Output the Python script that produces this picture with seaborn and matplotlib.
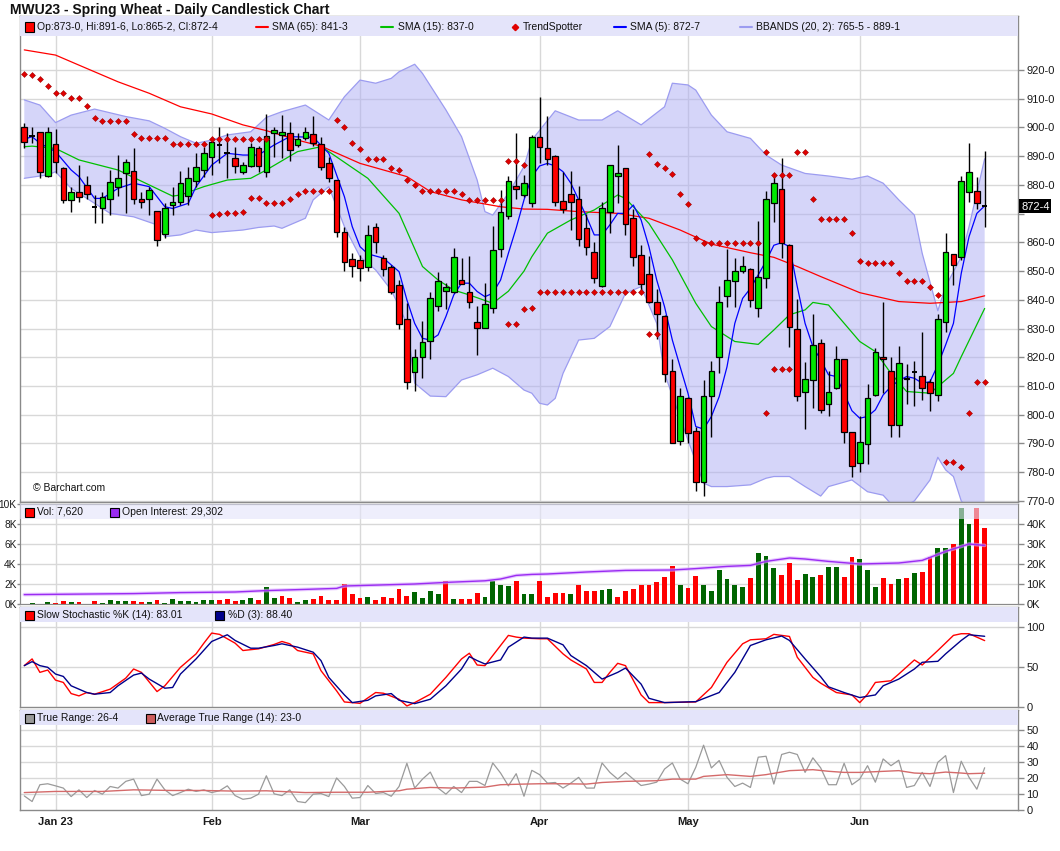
import numpy as np
import seaborn as sns
import matplotlib.pyplot as plt
from matplotlib.patches import Rectangle
from matplotlib.lines import Line2D

# daily candles, 27 Dec 2022 .. 23 Jun 2023
opens = [900.0, 897.1, 898.3, 883.0, 894.1, 885.8, 874.6, 877.7, 879.9, 872.4,
         871.9, 875.0, 879.4, 884.0, 884.7, 875.0, 875.0, 870.8, 862.8, 872.9,
         873.9, 876.0, 881.3, 885.2, 889.6, 893.9, 891.0, 889.3, 884.6, 886.6,
         892.7, 884.4, 898.0, 897.4, 898.0, 893.9, 896.2, 897.8, 894.4, 887.5,
         881.6, 863.5, 854.1, 853.9, 851.6, 865.2, 854.5, 851.3, 845.2, 833.2,
         814.8, 820.0, 825.8, 837.9, 843.1, 842.6, 846.8, 842.9, 832.4, 830.1,
         837.1, 857.6, 869.2, 879.7, 876.4, 873.8, 896.6, 892.7, 890.2, 874.3,
         876.7, 875.0, 864.9, 856.5, 844.8, 870.5, 883.1, 885.8, 868.4, 855.6,
         848.9, 839.1, 834.4, 815.2, 790.9, 805.7, 794.4, 776.5, 806.7, 820.0,
         841.5, 846.6, 850.0, 850.9, 837.3, 847.5, 873.8, 878.6, 859.1, 829.7,
         807.8, 812.1, 824.9, 803.6, 809.2, 819.3, 793.9, 783.1, 789.7, 806.9,
         820.0, 815.4, 796.5, 812.9, 814.8, 813.6, 811.3, 806.9, 832.2, 855.8,
         854.8, 877.7, 877.9, 873.0]
highs = [901.6, 900.0, 898.5, 900.0, 899.5, 886.2, 879.4, 886.9, 883.1, 876.5,
         877.7, 885.2, 890.4, 889.0, 892.7, 877.7, 879.4, 871.0, 873.6, 879.4,
         884.9, 886.4, 891.0, 893.3, 896.2, 900.0, 898.0, 893.1, 888.1, 894.7,
         893.5, 904.7, 900.0, 904.3, 902.0, 898.0, 900.0, 904.0, 896.6, 889.8,
         881.8, 865.5, 856.2, 855.6, 866.1, 866.9, 855.6, 852.1, 846.9, 838.8,
         822.8, 832.6, 842.9, 849.6, 846.0, 857.9, 854.5, 855.3, 837.9, 845.8,
         865.7, 878.2, 883.1, 898.0, 883.5, 897.4, 910.7, 904.0, 890.4, 884.6,
         884.8, 879.6, 869.9, 860.3, 874.2, 886.8, 893.9, 886.0, 871.5, 859.1,
         855.3, 843.7, 834.6, 819.3, 809.3, 806.3, 795.9, 812.2, 818.8, 844.9,
         857.6, 854.5, 855.4, 851.0, 867.4, 878.0, 884.0, 889.3, 859.3, 840.2,
         818.5, 835.1, 826.3, 815.2, 823.9, 819.5, 794.0, 799.4, 810.6, 823.1,
         839.4, 820.2, 824.0, 817.7, 818.8, 828.7, 812.5, 835.1, 863.4, 855.9,
         883.1, 894.5, 882.9, 891.75]
lows = [892.7, 894.5, 882.3, 882.8, 884.0, 873.6, 870.7, 874.2, 875.0, 866.9,
        866.9, 869.5, 876.1, 870.3, 873.2, 871.9, 869.5, 858.9, 861.4, 869.5,
        873.0, 873.0, 879.4, 882.9, 883.5, 887.5, 882.3, 884.0, 883.8, 886.4,
        884.6, 882.9, 889.6, 889.3, 888.4, 893.3, 895.6, 893.5, 885.2, 881.1,
        861.8, 850.2, 848.1, 846.7, 850.2, 856.2, 848.4, 842.0, 829.7, 808.9,
        808.4, 812.9, 819.3, 836.2, 836.7, 842.3, 845.4, 837.1, 820.8, 830.1,
        835.5, 855.0, 868.0, 875.0, 875.9, 872.4, 887.5, 886.9, 872.8, 870.3,
        864.3, 858.7, 855.6, 845.8, 844.6, 863.4, 873.6, 862.6, 851.9, 843.4,
        838.8, 826.3, 811.5, 790.0, 789.5, 790.1, 773.3, 771.7, 792.4, 814.4,
        837.6, 837.6, 849.2, 837.6, 834.2, 844.0, 867.2, 854.5, 823.5, 804.9,
        794.9, 802.3, 800.5, 799.4, 809.0, 790.1, 778.2, 780.2, 782.8, 806.7,
        807.5, 792.4, 792.4, 803.6, 803.2, 805.2, 801.3, 804.9, 828.9, 845.2,
        853.9, 874.2, 871.5, 865.25]
closes = [894.8, 897.1, 884.4, 898.3, 887.9, 874.6, 877.7, 875.7, 876.8, 872.4,
          875.9, 880.9, 882.3, 887.9, 875.0, 873.9, 878.1, 860.7, 871.9, 873.9,
          880.6, 882.3, 886.4, 891.0, 894.8, 893.9, 891.0, 886.6, 886.8, 893.3,
          886.6, 897.1, 899.1, 898.3, 892.2, 896.1, 898.5, 894.5, 886.1, 882.3,
          863.5, 853.1, 851.7, 851.0, 862.6, 860.0, 850.6, 842.9, 831.5, 811.3,
          820.0, 825.2, 840.6, 846.5, 844.6, 854.8, 845.4, 839.1, 830.1, 838.4,
          857.2, 870.5, 881.5, 878.5, 880.6, 896.6, 893.1, 889.0, 873.9, 871.5,
          874.2, 861.1, 858.3, 847.5, 871.9, 886.8, 884.0, 866.4, 854.8, 845.4,
          839.1, 835.1, 814.2, 790.1, 806.7, 793.6, 776.5, 806.7, 815.4, 839.4,
          846.9, 849.9, 851.9, 840.0, 848.1, 875.0, 880.6, 859.7, 830.7, 806.7,
          812.3, 824.3, 801.7, 807.8, 819.3, 794.1, 782.3, 790.6, 805.7, 822.0,
          819.3, 796.5, 817.9, 812.3, 814.8, 809.2, 807.5, 833.2, 856.5, 852.0,
          881.5, 884.4, 873.6, 872.5]

# moving averages and bollinger bands (sampled along the drawn lines)
sma65_idx = [0, 4, 7, 12, 16, 20, 24, 28, 31, 35, 38, 43, 49, 52, 56, 61, 64, 67, 71, 76,
             80, 84, 88, 93, 96, 99, 102, 107, 112, 116, 120, 123]
sma65 = [927.0, 925.2, 921.7, 915.9, 911.9, 907.2, 904.7, 900.9, 898.9, 895.6, 893.5,
         887.5, 882.9, 877.7, 874.8, 872.4, 871.6, 871.5, 870.7, 870.1, 868.4, 864.3,
         859.4, 856.4, 854.8, 851.6, 848.1, 842.5, 839.4, 838.8, 839.4, 841.4]

sma15_idx = [0, 1, 4, 7, 12, 16, 19, 20, 23, 26, 29, 31, 35, 38, 39, 44, 48, 51, 53, 55,
             57, 60, 62, 64, 65, 67, 70, 73, 76, 77, 80, 83, 86, 88, 91, 94, 96, 98, 100, 101,
             103, 107, 109, 111, 113, 116, 118, 119, 120, 123]
sma15 = [893.3, 893.5, 892.7, 888.7, 885.2, 880.0, 876.1, 876.5, 879.4, 881.7,
         882.3, 885.2, 891.6, 893.3, 891.6, 882.3, 870.1, 851.6, 846.9, 843.4,
         841.7, 838.8, 843.0, 850.0, 855.0, 863.2, 867.8, 871.3, 876.5, 875.3,
         866.6, 853.9, 838.8, 830.7, 825.5, 824.5, 829.5, 834.8, 836.5, 839.1,
         838.2, 825.5, 822.0, 814.4, 808.1, 807.5, 812.1, 814.4, 820.2, 837.0]

sma5_idx = [0, 1, 2, 4, 6, 7, 9, 10, 12, 14, 16, 18, 19, 21, 22, 24, 26, 28, 30, 31, 32,
            34, 37, 39, 41, 42, 43, 44, 46, 48] + list(range(49, 124))
sma5 = [895.9, 896.8, 894.5, 891.6, 885.2, 882.9, 875.3, 875.3, 878.8, 880.6,
        879.4, 872.4, 871.8, 873.6, 879.4, 886.9, 891.0, 890.4, 890.4, 892.2,
        893.9, 896.8, 896.6, 891.0, 875.9, 865.5, 858.5, 856.0, 854.5, 849.8,
        840.0, 831.8, 826.6, 826.0, 827.8, 834.2, 841.7, 845.8, 845.8, 842.9,
        841.1, 842.3, 846.9, 856.2, 865.0, 874.8, 882.9, 886.6, 887.5, 886.6,
        884.6, 880.6, 874.8, 869.0, 862.6, 862.6, 866.1, 870.1, 870.1, 873.0,
        867.8, 858.5, 846.9, 837.6, 826.0, 816.7, 807.5, 795.9, 795.0, 799.4,
        806.3, 816.7, 831.8, 840.5, 844.0, 848.7, 853.5, 859.0, 859.9, 858.5,
        844.6, 831.8, 823.7, 819.1, 813.9, 813.3, 807.5, 801.4, 798.8, 799.4,
        801.7, 806.9, 809.8, 811.9, 813.3, 812.7, 811.0, 811.5, 817.3, 824.3,
        831.8, 849.2, 862.0, 870.1, 872.7]

bb_up_idx = [0, 2, 4, 6, 9, 13, 16, 18, 20, 22, 24, 26, 29, 31, 33, 36, 39, 41, 43, 45,
             47, 48, 50, 51, 54, 56, 58, 59, 60, 62, 63, 64, 65, 68, 71, 74, 76, 79, 82, 83,
             85, 86, 88, 90, 93, 95, 97, 100, 103, 106, 108, 110, 112, 114, 115, 117, 118,
             120, 121, 123]
bb_up = [909.6, 907.8, 901.7, 904.3, 906.4, 903.8, 902.3, 899.7, 896.8, 894.5,
         895.6, 897.4, 898.5, 903.5, 905.5, 907.8, 902.6, 910.7, 916.5, 915.4,
         917.1, 919.4, 922.0, 918.8, 906.1, 896.8, 881.7, 870.7, 869.5, 877.1,
         881.7, 886.4, 895.6, 905.8, 902.6, 902.6, 905.8, 900.9, 907.2, 915.4,
         914.8, 913.0, 904.3, 898.5, 896.2, 890.4, 886.9, 884.0, 883.1, 882.0,
         883.1, 880.6, 874.8, 869.5, 856.2, 836.2, 844.6, 855.0, 865.5, 889.1]
bb_lo_idx = [0, 3, 4, 6, 9, 11, 14, 17, 18, 20, 22, 24, 28, 30, 32, 33, 36, 37, 39, 41,
             43, 45, 47, 49, 50, 52, 54, 56, 58, 60, 62, 64, 65, 66, 67, 68, 69, 71, 73, 75,
             77, 79, 81, 82, 85, 87, 88, 90, 93, 95, 96, 98, 100, 102, 103, 106, 108, 110,
             111, 113, 114, 116, 117, 118, 119, 120, 121, 123]
bb_lo = [882.3, 883.5, 884.6, 878.8, 873.6, 870.1, 868.9, 866.1, 862.0, 862.6,
         864.3, 863.4, 864.3, 865.2, 865.7, 864.9, 868.4, 874.8, 879.4, 865.5,
         855.0, 850.4, 843.4, 831.8, 811.0, 806.5, 806.3, 812.1, 813.9, 816.2,
         813.3, 808.6, 807.5, 804.0, 803.4, 805.7, 814.4, 826.0, 826.6, 830.7,
         842.3, 844.6, 831.8, 814.4, 791.2, 776.2, 775.0, 775.0, 775.6, 777.9,
         778.5, 778.5, 775.0, 771.7, 775.0, 777.3, 773.2, 772.0, 769.0, 768.5,
         770.0, 777.3, 785.2, 780.8, 778.5, 770.0, 767.0, 765.6]

# TrendSpotter dots
ts_idx = (list(range(0, 32)) + list(range(24, 40)) + list(range(40, 65))
          + list(range(62, 82)) + list(range(80, 118)) + list(range(95, 99))
          + list(range(118, 124)))
ts_val = ([918.5, 918.1, 916.8, 914.3, 911.9, 911.9, 910.4, 910.1, 907.4, 903.2,
           902.2, 902.2, 902.2, 902.2, 897.6, 896.3, 896.3, 896.3, 896.3, 894.1,
           894.1, 894.1, 894.1, 894.1, 895.9, 895.9, 895.9, 895.9, 895.9, 895.9,
           895.9, 895.9]
          + [869.5, 869.8, 870.1, 870.1, 870.7, 875.3, 875.3, 873.6, 873.6, 873.6,
             875.0, 876.7, 877.8, 877.8, 877.8, 877.8]
          + [902.5, 900.3, 894.5, 892.4, 888.9, 888.9, 888.9, 885.8, 885.2, 881.6,
             879.9, 877.8, 877.8, 877.8, 877.8, 877.8, 876.7, 874.6, 874.6, 874.6,
             874.6, 874.6, 888.2, 888.2, 886.8]
          + [831.5, 831.5, 836.7, 837.1] + [842.6] * 14 + [828.0, 828.0]
          + [890.6, 887.2, 885.8, 883.7, 876.7, 873.2, 861.4] + [859.7] * 8
          + [891.3, 883.5, 883.5, 883.5, 891.3, 891.3, 875.0] + [868.0] * 4
          + [863.2, 853.5] + [852.7] * 4 + [849.2, 846.5, 846.5, 846.5, 844.4, 841.6]
          + [800.5, 815.9, 815.9, 815.9]
          + [783.7, 783.7, 781.7, 800.5, 811.5, 811.5])

# volume (thousands) and open interest (thousands)
vol_k = [0, 0.1, 0, 0.2, 0.1, 0.3, 0.2, 0.2, 0, 0.3,
         0.1, 0.4, 0.3, 0.3, 0.3, 0.2, 0.2, 0.4, 0.1, 0.5,
         0.3, 0.3, 0.2, 0.4, 0.4, 0.4, 0.5, 0.3, 0.4, 0.6,
         0.4, 1.7, 0.6, 0.8, 0.6, 0.2, 0.4, 0.5, 0.8, 0.4,
         0.4, 2.0, 1.0, 0.6, 0.7, 0.4, 0.7, 0.6, 1.5, 0.8,
         1.2, 0.6, 1.3, 1.0, 2.3, 0.5, 0.5, 0.5, 1.1, 0.7,
         2.3, 1.9, 1.8, 2.3, 1.0, 1.0, 2.27, 0.7, 1.1, 1.1,
         1.0, 1.87, 1.27, 1.27, 1.4, 1.5, 0.7, 1.27, 1.5, 1.87,
         1.87, 2.2, 2.67, 3.8, 1.87, 1.6, 2.8, 1.87, 1.27, 3.4,
         2.5, 1.87, 1.7, 2.6, 5.1, 4.8, 3.6, 2.87, 4.07, 2.4,
         3.0, 2.7, 2.9, 3.7, 3.7, 2.7, 4.7, 4.5, 3.4, 1.7,
         2.6, 2.0, 2.5, 2.6, 3.1, 3.2, 4.7, 5.6, 5.6, 6.0,
         9.6, 8.0, 9.6, 7.62]
oi_idx = [0, 14, 20, 27, 31, 40, 41, 50, 54, 59, 61, 63, 65, 67, 72, 77, 83, 86, 90, 93,
          95, 98, 100, 103, 107, 112, 115, 118, 121, 123]
oi_k = [4.7, 5.2, 5.7, 6.0, 6.7, 7.8, 9.0, 10.0, 10.8, 11.6, 12.5, 14.3, 14.8, 15.0,
        16.0, 16.8, 17.0, 17.7, 18.8, 19.3, 21.3, 23.0, 22.5, 21.3, 20.0, 20.5, 21.8,
        26.3, 30.0, 29.3]

# slow stochastic
k_idx = [0, 1, 2, 3, 4, 5, 6, 7, 8, 9, 11, 13, 14, 15, 17, 18, 20, 22, 23, 24, 25, 27, 28,
         30, 32, 33, 34, 35, 37, 38, 40, 41, 43, 45, 46, 48, 49, 50, 52, 54, 56, 57, 58, 59,
         60, 62, 63, 64, 66, 67, 69, 70, 72, 73, 74, 75, 76, 77, 79, 80, 82, 86, 88, 90, 92,
         93, 95, 96, 98, 99, 101, 102, 104, 106, 107, 108, 109, 111, 112, 114, 115, 117,
         119, 120, 121, 123]
k_val = [51.7, 60.1, 43.3, 46.2, 33.6, 30.7, 16.8, 13.9, 18.1, 16.0, 22.3, 36.1, 47.5,
         43.3, 19.3, 26.5, 49.6, 66.4, 79.8, 92.4, 90.8, 79.8, 70.6, 72.7, 78.2, 81.9,
         79.0, 70.6, 66.4, 45.4, 20.2, 6.3, 4.6, 18.1, 17.2, 9.7, 1.3, 5.5, 16.0, 37.0,
         60.1, 67.2, 52.5, 51.7, 64.3, 89.5, 87.4, 86.1, 85.3, 85.3, 66.4, 58.8, 47.5,
         30.7, 30.7, 43.3, 54.6, 51.7, 15.1, 5.5, 5.5, 6.3, 24.4, 55.9, 79.0, 84.0, 85.3,
         90.8, 88.2, 62.2, 37.0, 29.8, 18.1, 15.1, 5.5, 16.0, 30.7, 32.8, 41.2, 58.8,
         52.5, 70.6, 89.5, 91.6, 91.6, 83.0]
d_idx = [0, 1, 2, 3, 4, 5, 6, 8, 9, 11, 12, 14, 15, 16, 18, 19, 20, 22, 24, 26, 27, 29,
         30, 32, 33, 35, 37, 38, 39, 41, 42, 44, 45, 47, 48, 50, 52, 54, 56, 57, 58, 59, 61,
         62, 64, 65, 67, 69, 70, 72, 74, 76, 77, 79, 80, 82, 86, 89, 91, 93, 95, 97, 98,
         100, 102, 103, 105, 107, 109, 110, 112, 114, 115, 117, 118, 120, 121, 123]
d_val = [51.7, 56.7, 51.7, 49.6, 41.2, 38.2, 26.5, 18.1, 16.0, 18.1, 26.5, 39.9, 42.4,
         34.9, 23.5, 24.4, 41.2, 60.1, 81.9, 90.3, 83.2, 73.5, 73.5, 76.9, 79.0, 74.8,
         68.5, 58.0, 37.0, 15.1, 5.5, 8.4, 13.9, 16.8, 8.4, 4.2, 9.7, 26.5, 47.5, 63.0,
         58.0, 53.8, 58.8, 74.8, 87.4, 86.1, 86.1, 77.7, 64.3, 51.7, 34.9, 43.3, 48.7,
         28.6, 10.9, 5.5, 6.7, 18.1, 43.3, 76.9, 84.0, 88.7, 83.2, 60.1, 37.8, 25.2, 18.1,
         11.8, 15.1, 26.5, 34.9, 47.5, 55.9, 57.1, 66.4, 83.2, 90.3, 88.4]

# true range (daily) and its 14-day average
true_range = [8.8, 5.3, 15.8, 16.4, 15.1, 13.7, 8.4, 12.6, 7.8, 12.2,
              9.9, 14.7, 13.7, 17.9, 19.3, 9.0, 9.9, 19.3, 12.6, 9.0,
              10.9, 13.0, 11.6, 12.6, 10.9, 12.0, 15.1, 9.0, 6.7, 7.4,
              9.9, 21.4, 10.1, 9.0, 12.6, 5.3, 4.6, 9.9, 10.3, 8.4,
              20.0, 14.7, 7.4, 7.8, 15.3, 10.3, 10.9, 8.6, 14.7, 29.2,
              13.7, 19.3, 23.7, 13.7, 9.9, 14.7, 10.9, 17.9, 17.9, 15.3,
              29.4, 23.1, 15.1, 22.7, 8.6, 24.8, 22.1, 16.8, 17.2, 13.7,
              16.8, 20.4, 13.7, 13.7, 29.4, 23.5, 19.3, 23.5, 19.3, 15.3,
              16.2, 17.4, 25.6, 29.4, 19.3, 16.4, 26.7, 40.5, 26.3, 30.9,
              20.4, 14.7, 16.8, 14.1, 33.0, 33.6, 16.2, 34.7, 36.1, 34.7,
              23.5, 32.6, 26.3, 15.8, 15.8, 29.2, 15.8, 19.3, 27.7, 17.4,
              31.9, 27.7, 31.1, 14.1, 15.3, 23.5, 14.7, 29.8, 34.0, 10.9,
              30.5, 20.4, 13.0, 26.4]
atr_idx = [0, 4, 10, 14, 19, 23, 27, 31, 36, 40, 44, 48, 49, 52, 55, 59, 61, 64, 66, 69,
           72, 74, 77, 81, 83, 86, 87, 90, 93, 95, 98, 101, 103, 105, 107, 112, 114, 116,
           118, 120, 121, 123]
atr = [10.9, 11.6, 11.6, 12.6, 12.2, 12.2, 11.8, 12.0, 10.9, 11.1, 11.1, 12.0, 13.0,
       14.1, 13.7, 14.3, 15.8, 16.2, 16.4, 16.4, 16.2, 17.2, 17.9, 18.3, 19.3, 19.3,
       21.0, 22.1, 21.0, 22.1, 24.6, 25.2, 24.2, 23.5, 23.5, 24.6, 23.1, 22.7, 23.7,
       23.1, 22.7, 23.0]

month_idx = [4, 24, 43, 66, 85, 107]
month_lab = ['Jan 23', 'Feb', 'Mar', 'Apr', 'May', 'Jun']

sns.set_style('white')
plt.rcParams['font.family'] = ['Liberation Sans', 'DejaVu Sans']

W, H = 1060, 851
fig = plt.figure(figsize=(W / 100, H / 100), dpi=100)
GRID = '#d8d8d8'
FRAME = '#8a8a8a'
BAND = '#e4e4fa'
XL = (-0.55, 127.27)
n = len(closes)
days = np.arange(n)


def fx(x):
    return x / W


def fy(y):
    return 1 - y / H


def panel(top, bottom):
    return fig.add_axes([fx(20), fy(bottom), 998 / W, (bottom - top) / H])


def setup(ax, ylim, band_px, h_px, hgrid, band_alpha=1.0):
    ax.set_xlim(*XL)
    ax.set_ylim(*ylim)
    for s in ax.spines.values():
        s.set_color(FRAME)
        s.set_linewidth(1)
    for m in month_idx:
        ax.axvline(m, color=GRID, lw=1, zorder=0.5)
    for g in hgrid:
        ax.axhline(g, color=GRID, lw=1, zorder=0.5)
    ax.add_patch(Rectangle((0, 1 - band_px / h_px), 1, band_px / h_px,
                           transform=ax.transAxes, facecolor=BAND, lw=0,
                           alpha=band_alpha, zorder=6))
    ax.set_xticks([])
    ax.set_xlabel('')
    ax.set_ylabel('')


def right_ticks(ax, ticks, labels):
    ax.yaxis.tick_right()
    ax.set_yticks(ticks)
    ax.set_yticklabels(labels)
    ax.tick_params(axis='y', length=4, width=1, color=FRAME, labelsize=8,
                   pad=2, labelcolor='#1a1a1a')


# ---- price panel
ax_p = panel(16, 502)
ax_p.fill(np.r_[bb_up_idx, bb_lo_idx[::-1]], np.r_[bb_up, bb_lo[::-1]],
          color='#adadf5', alpha=0.5, lw=0, zorder=1)
sns.lineplot(x=bb_up_idx, y=bb_up, ax=ax_p, color='#9c9cf0', lw=0.9, estimator=None, zorder=2)
sns.lineplot(x=bb_lo_idx, y=bb_lo, ax=ax_p, color='#9c9cf0', lw=0.9, estimator=None, zorder=2)
sns.lineplot(x=sma65_idx, y=sma65, ax=ax_p, color='#ff0000', lw=0.9, estimator=None, zorder=3)
sns.lineplot(x=sma15_idx, y=sma15, ax=ax_p, color='#00c000', lw=0.9, estimator=None, zorder=3)
sns.lineplot(x=sma5_idx, y=sma5, ax=ax_p, color='#0000ff', lw=0.9, estimator=None, zorder=3)

ax_p.vlines(days, lows, highs, color='black', lw=1, zorder=4)
for i, (o, c) in enumerate(zip(opens, closes)):
    if abs(c - o) < 0.55:
        ax_p.hlines(c, i - 0.36, i + 0.36, color='black', lw=1.4, zorder=5)
    else:
        ax_p.add_patch(Rectangle((i - 0.36, min(o, c)), 0.72, abs(c - o),
                                 facecolor='#00e800' if c > o else '#ff0000',
                                 edgecolor='black', lw=0.9, zorder=5))
sns.scatterplot(x=ts_idx, y=ts_val, ax=ax_p, marker='D', s=9, color='#e00000',
                edgecolor='#a00000', linewidth=0.4, zorder=6)
setup(ax_p, (769.63, 938.8), 20, 486, range(770, 921, 10))
right_ticks(ax_p, list(range(770, 921, 10)),
            ['' if v == 870 else f'{v}-0' for v in range(770, 921, 10)])

# ---- volume / open interest panel
ax_v = panel(504, 604)
vcol = ['#ff0000'] + ['#006400' if closes[i] >= closes[i - 1] else '#ff0000'
                      for i in range(1, n)]
ax_v.bar(days, vol_k, width=0.62, color=vcol, lw=0, zorder=2)
ax_v.set_xlim(*XL)
ax_v.set_ylim(0, 10)
ax_v.set_yticks(range(0, 11, 2))
ax_v.set_yticklabels([f'{v}K' for v in range(0, 11, 2)])
ax_v.tick_params(axis='y', length=2, width=1, color=FRAME, labelsize=7.3, pad=0.5,
                 labelcolor='#1a1a1a')
for g in range(2, 10, 2):
    ax_v.axhline(g, color=GRID, lw=1, zorder=0.5)
for m in month_idx:
    ax_v.axvline(m, color=GRID, lw=1, zorder=0.5)
ax_v.set_xticks([])
for s in ax_v.spines.values():
    s.set_color(FRAME)

ax_oi = ax_v.twinx()
sns.lineplot(x=oi_idx, y=oi_k, ax=ax_oi, color='#d9a6ff', lw=2.6, estimator=None, alpha=0.6)
sns.lineplot(x=oi_idx, y=oi_k, ax=ax_oi, color='#9a2cf2', lw=1.0, estimator=None)
ax_oi.set_xlim(*XL)
ax_oi.set_ylim(0, 50)
ax_oi.set_yticks(range(0, 41, 10))
ax_oi.set_yticklabels([f'{v}K' for v in range(0, 41, 10)])
ax_oi.tick_params(axis='y', length=4, width=1, color=FRAME, labelsize=8, pad=2,
                  labelcolor='#1a1a1a')
ax_oi.set_ylabel('')
for s in ax_oi.spines.values():
    s.set_color(FRAME)
ax_oi.add_patch(Rectangle((0, 0.85), 1, 0.15, transform=ax_oi.transAxes,
                          facecolor=BAND, lw=0, alpha=0.6, zorder=6))

# ---- stochastic panel
ax_s = panel(607, 707)
sns.lineplot(x=k_idx, y=k_val, ax=ax_s, color='#ff0000', lw=1, estimator=None, zorder=3)
sns.lineplot(x=d_idx, y=d_val, ax=ax_s, color='#00008b', lw=1, estimator=None, zorder=3)
setup(ax_s, (0, 125), 15, 100, [50, 100])
right_ticks(ax_s, [0, 50, 100], ['0', '50', '100'])

# ---- true range panel
ax_t = panel(710, 810)
sns.lineplot(x=days, y=true_range, ax=ax_t, color='#9a9a9a', lw=0.9, estimator=None, zorder=3)
sns.lineplot(x=atr_idx, y=atr, ax=ax_t, color='#d46a6a', lw=1, estimator=None, zorder=3)
setup(ax_t, (0, 62.5), 15, 100, [10, 20, 30, 40, 50])
right_ticks(ax_t, [0, 10, 20, 30, 40, 50], ['0', '10', '20', '30', '40', '50'])
ax_t.set_xticks(month_idx)
ax_t.set_xticklabels(month_lab, fontweight='bold', fontsize=8, color='#1a1a1a')
ax_t.tick_params(axis='x', length=3, width=1, color=FRAME, pad=2)

# ---- texts and legends
fig.text(fx(10), fy(10), 'MWU23 - Spring Wheat - Daily Candlestick Chart', fontsize=10,
         fontweight='bold', va='center', ha='left', color='#111111',
         family=['Liberation Sans Narrow', 'Liberation Sans', 'DejaVu Sans'])


def sq(x, y, color):
    fig.add_artist(Rectangle((fx(x), fy(y + 4.5)), 9 / W, 9 / H, facecolor=color,
                             edgecolor='black', lw=0.8, transform=fig.transFigure))


def ln(x, y, color):
    fig.add_artist(Line2D([fx(x), fx(x + 12)], [fy(y), fy(y)], color=color, lw=1.5,
                          transform=fig.transFigure))


def txt(x, y, s, **kw):
    fig.text(fx(x), fy(y), s, fontsize=7.5, va='center', ha='left', color='#111111', **kw)


sq(25, 27, '#ff0000')
txt(37, 27, 'Op:873-0, Hi:891-6, Lo:865-2, Cl:872-4')
ln(256, 27, '#ff0000')
txt(272, 27, 'SMA (65): 841-3')
ln(381, 27, '#00c000')
txt(398, 27, 'SMA (15): 837-0')
fig.add_artist(Line2D([fx(515)], [fy(27)], marker='D', markersize=3.2, color='#e00000',
                      transform=fig.transFigure))
txt(523, 27, 'TrendSpotter')
ln(614, 27, '#0000ff')
txt(630, 27, 'SMA (5): 872-7')
ln(740, 27, '#9c9cf0')
txt(756, 27, 'BBANDS (20, 2): 765-5 - 889-1')

sq(25, 512, '#ff0000')
txt(37, 512, 'Vol: 7,620')
sq(110, 512, '#9a2cf2')
txt(122, 512, 'Open Interest: 29,302')

sq(25, 615, '#ff0000')
txt(37, 615, 'Slow Stochastic %K (14): 83.01')
sq(215, 615, '#00008b')
txt(228, 615, '%D (3): 88.40')

sq(25, 718, '#999999')
txt(37, 718, 'True Range: 26-4')
sq(146, 718, '#cd5c5c')
txt(157, 718, 'Average True Range (14): 23-0')

txt(33, 488, '\u00a9 Barchart.com')

# last price marker on the price axis
fig.add_artist(Rectangle((fx(1019), fy(213)), 32 / W, 14 / H, facecolor='black', lw=0,
                         transform=fig.transFigure))
fig.text(fx(1021), fy(206.5), '872-4', fontsize=8, color='white', va='center', ha='left')

fig.savefig('out.png', dpi=100)
